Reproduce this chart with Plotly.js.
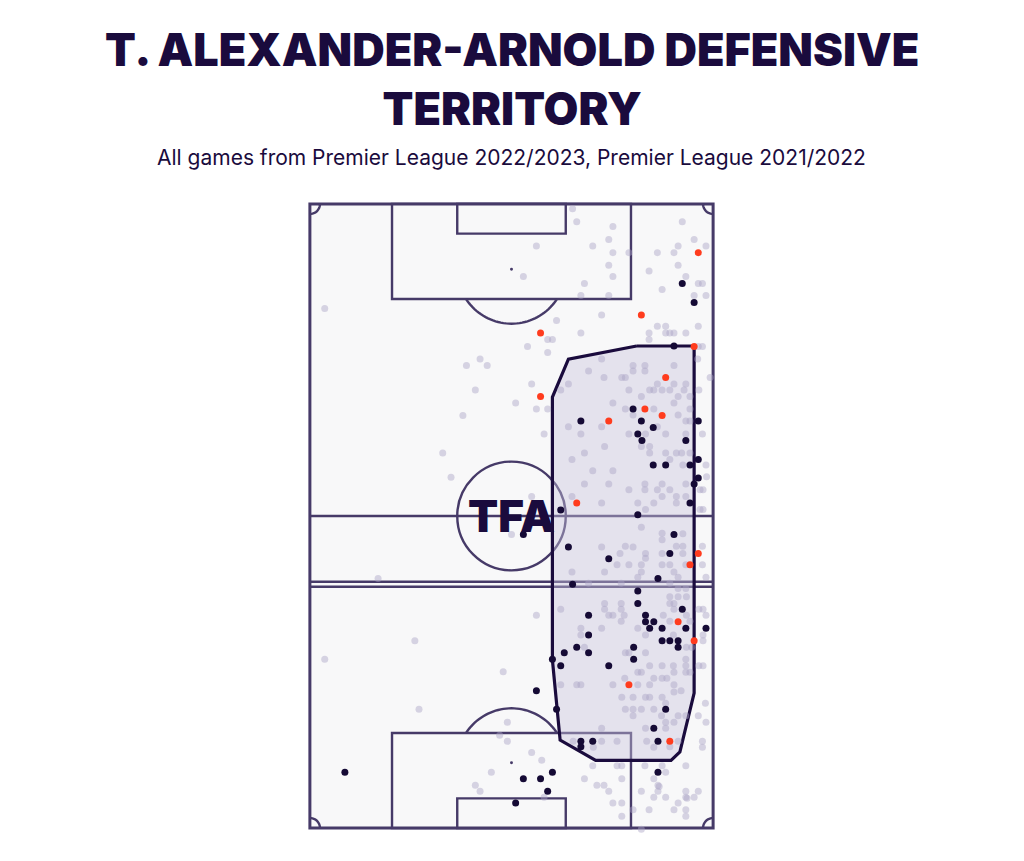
<!DOCTYPE html>
<html>
<head>
<meta charset="utf-8">
<script src="https://cdn.plot.ly/plotly-3.0.1.min.js"></script>
<style>html,body{margin:0;padding:0;background:#fff;}#chart{width:1024px;height:861px;}</style>
</head>
<body>
<div id="chart"></div>
<script>
// ---- Data (pitch coordinates in metres: x across 0-68, y along 0-105, own goal at bottom) ----
const titleLine1 = "T. ALEXANDER-ARNOLD DEFENSIVE";
const titleLine2 = "TERRITORY";
const subtitle = "All games from Premier League 2022/2023, Premier League 2021/2022";
const logoText = "TFA";

// all defensive actions (light grey)
const grayX = [44.3,45.0,62.8,51.1,50.4,64.8,38.2,47.7,62.1,66.8,
51.1,53.8,58.6,61.4,50.4,62.1,36.0,51.1,57.2,63.4,
46.3,65.5,66.2,59.4,45.7,50.4,64.8,66.8,2.5,49.2,
41.6,58.6,60.0,65.5,45.7,57.2,60.0,60.7,61.4,63.4,
40.1,40.9,57.2,36.7,65.5,66.2,40.1,28.7,26.4,29.9,
49.2,54.5,56.5,61.4,65.4,47.0,54.5,56.5,49.6,52.6,
53.2,67.5,37.4,43.6,58.6,61.4,63.4,27.9,42.3,53.8,
57.3,58.0,59.4,60.7,63.1,65.6,55.9,62.1,64.1,34.7,
51.1,61.4,38.2,40.1,53.2,58.0,64.1,25.8,54.5,62.1,
63.4,64.1,43.6,49.2,58.6,39.5,45.7,53.8,56.6,60.0,
63.4,66.2,49.7,55.9,57.3,22.4,46.3,57.3,60.0,61.8,
62.7,64.1,44.2,60.7,62.9,66.8,47.7,51.1,23.8,66.9,
46.3,50.4,56.5,59.4,63.4,53.8,56.5,58.6,60.7,65.8,
66.3,37.4,44.2,59.4,61.8,63.4,49.2,55.3,58.0,61.8,
56.6,65.8,66.3,55.9,34.0,59.4,62.9,59.4,49.2,53.2,
54.5,61.8,62.9,66.2,
52.3,56.6,59.4,62.9,56.6,51.8,53.8,55.9,59.4,60.7,
63.4,66.2,44.2,49.7,55.9,61.4,55.3,62.1,66.8,11.5,
47.0,52.5,60.7,62.1,63.4,60.7,62.1,63.5,49.7,52.5,
60.7,61.4,42.3,49.7,52.5,61.4,65.6,66.3,50.4,51.1,
53.0,59.6,63.5,66.8,38.2,52.5,60.7,64.1,
45.7,49.2,55.3,45.7,56.6,61.3,66.3,17.7,66.3,46.3,
63.5,64.4,53.2,53.8,56.6,2.5,63.4,57.3,59.4,61.3,
63.4,65.6,66.3,32.6,55.3,55.9,61.4,63.4,64.1,53.1,
58.0,59.4,60.2,42.3,45.0,45.7,51.1,55.3,57.3,61.4,
62.6,
52.6,54.5,56.6,57.3,59.4,61.4,66.7,60.0,18.4,53.2,
55.9,58.0,54.5,59.3,62.1,63.4,65.5,60.0,61.4,66.8,
33.3,49.2,56.6,60.0,32.0,33.3,44.4,49.2,51.8,56.8,
62.1,66.2,47.8,58.0,60.7,66.2,37.4,39.1,
47.7,51.8,52.6,56.5,59.4,63.4,30.6,60.0,46.3,52.6,
58.0,27.9,48.4,49.6,58.7,58.9,28.7,39.5,50.4,55.9,
58.7,63.4,65.5,58.0,60.0,63.4,63.6,64.8,51.1,52.6,
62.1,54.5,57.2,61.4,63.4,52.6,63.4,55.9,54.5];
const grayY = [104.2,102.0,102.0,101.2,99.0,99.0,97.9,97.9,97.9,97.9,
96.8,96.8,96.8,96.8,94.7,94.7,92.8,92.8,93.7,92.8,
91.6,91.6,91.6,90.6,89.6,89.6,89.6,89.6,87.4,86.3,
85.4,84.4,84.4,84.4,83.3,83.3,83.3,83.3,83.3,83.3,
82.2,82.2,82.2,81.0,81.0,81.0,80.0,78.9,77.8,77.8,
78.9,77.8,77.8,77.8,78.9,76.9,76.9,76.9,75.8,75.8,
75.8,75.8,74.7,74.7,74.7,74.7,74.7,73.7,73.7,73.7,
73.7,73.7,73.7,73.7,73.7,73.7,72.6,72.6,72.6,71.5,
71.5,71.5,70.5,70.5,70.5,70.5,70.5,69.4,69.5,69.5,
68.5,68.5,67.5,67.5,67.5,66.3,66.3,66.3,66.3,66.3,
66.3,66.3,64.2,64.2,64.2,63.1,63.1,63.1,63.1,63.1,
63.1,63.1,62.0,62.0,61.1,61.1,60.1,60.1,59.0,59.1,
57.9,57.9,57.9,57.9,57.9,56.9,56.9,56.9,56.9,56.9,
56.9,55.8,55.8,55.8,55.8,55.8,54.7,54.7,54.7,54.7,
53.6,53.6,53.6,50.6,49.4,49.6,49.5,48.5,47.3,47.4,
47.3,47.4,47.4,47.4,
46.2,46.2,46.2,46.2,45.4,44.3,44.3,44.3,44.3,44.3,
44.3,44.3,43.1,43.1,43.1,43.1,42.2,42.2,42.2,42.0,
41.2,41.2,41.2,40.3,40.3,38.9,38.9,38.9,37.8,37.8,
37.8,37.8,36.8,36.8,36.8,36.8,36.8,36.8,35.8,35.8,
35.8,35.8,35.8,35.8,35.8,34.8,34.8,34.8,
33.6,33.6,33.6,32.5,32.5,32.5,32.5,31.5,31.5,30.4,
30.4,30.4,29.5,29.5,29.5,28.4,28.4,27.3,27.3,27.3,
27.3,27.3,27.3,26.3,26.2,26.2,26.2,26.2,26.2,25.2,
25.2,25.2,25.2,24.1,24.1,24.1,24.1,24.1,24.1,24.1,
23.1,
22.0,22.0,22.0,22.0,22.0,22.9,21.0,21.0,20.0,20.0,
20.0,20.0,18.9,18.9,18.9,18.9,18.9,17.8,17.8,17.8,
17.8,16.8,16.8,16.8,15.6,14.6,14.6,14.6,14.6,14.6,
14.6,14.6,13.6,13.6,13.7,13.6,12.7,11.4,
10.5,10.5,10.5,10.5,10.5,10.5,9.4,9.4,8.3,8.3,
8.3,7.2,7.2,7.2,7.2,7.0,6.2,5.2,6.2,6.2,
6.2,6.2,6.2,5.2,5.2,5.2,5.0,5.2,4.2,4.2,
4.2,3.1,3.1,3.1,3.1,2.0,2.0,-0.2,20.0];

// highlighted actions (dark)
const darkX = [62.8,64.8,61.4,54.5,45.7,55.9,57.9,55.3,56.0,63.4,
65.5,65.5,57.9,60.0,64.1,65.5,64.8,64.1,42.3,55.3,
36.0,61.4,43.6,60.7,50.4,58.7,44.3,55.3,55.3,62.8,
47.0,56.6,56.6,58.0,57.3,59.4,63.4,66.8,47.0,59.4,
60.7,62.1,62.1,45.0,54.6,42.9,47.0,40.9,54.6,42.3,
50.4,38.2,60.0,41.6,58.0,45.7,45.7,47.7,58.7,58.7,
5.9,36.0,38.9,40.9,40.1,34.7];
const darkY = [91.6,88.4,81.1,70.5,68.5,68.5,67.4,66.3,65.2,65.2,
68.5,62.0,61.1,61.1,61.1,58.9,57.9,54.7,53.5,52.7,
49.4,49.4,47.3,46.2,45.3,42.0,41.0,39.9,37.8,36.8,
35.8,35.8,34.7,34.7,33.6,33.6,33.6,33.6,32.5,31.5,
31.5,31.5,30.4,30.4,30.4,29.5,29.5,28.4,28.4,27.3,
27.3,23.1,20.0,20.0,16.8,14.6,13.7,14.6,14.6,9.4,
9.4,8.3,8.3,9.4,6.2,4.2];

// highlighted actions (red)
const redX = [65.5,55.9,38.9,64.8,60.0,38.9,56.5,59.4,50.4,45.0,65.5,64.1,62.1,64.8,53.8,60.7];
const redY = [96.8,86.3,83.3,81.0,75.8,72.6,70.5,69.4,68.5,54.7,46.2,44.3,34.7,31.5,24.1,14.6];

// territory hull
const hullX = [55.1,64.8,64.8,63.6,62.4,60.9,48.2,42.2,41.7,40.9,40.9,43.6];
const hullY = [81.1,81.1,22.7,17.8,12.8,11.4,11.4,14.8,19.9,28.3,72.5,78.9];

// ---- Pitch geometry ----
const W = 68, L = 105;
const lineC = "#463a68";
const navy = "#1a0b3d";

function arcPath(cx, cy, r, a0, a1, n) {
  let p = "";
  for (let i = 0; i <= n; i++) {
    const a = (a0 + (a1 - a0) * i / n) * Math.PI / 180;
    p += (i === 0 ? "M" : "L") + (cx + r * Math.cos(a)).toFixed(3) + "," + (cy + r * Math.sin(a)).toFixed(3);
  }
  return p;
}
const ln = {color: lineC, width: 2.4};
const shapes = [
  {type:"rect", x0:0, x1:W, y0:0, y1:L, fillcolor:"#f8f8f9", line:{color:lineC, width:3}, layer:"below"},
  {type:"line", x0:0, x1:W, y0:L/2, y1:L/2, line:ln, layer:"below"},
  {type:"line", x0:0, x1:W, y0:41.45, y1:41.45, line:ln, layer:"below"},
  {type:"line", x0:0, x1:W, y0:40.6, y1:40.6, line:ln, layer:"below"},
  {type:"circle", x0:34-9.15, x1:34+9.15, y0:L/2-9.15, y1:L/2+9.15, line:ln, layer:"below"},
  {type:"rect", x0:13.85, x1:54.15, y0:89, y1:L, line:ln, layer:"below"},
  {type:"rect", x0:24.85, x1:43.15, y0:100, y1:L, line:ln, layer:"below"},
  {type:"rect", x0:13.85, x1:54.15, y0:0, y1:16, line:ln, layer:"below"},
  {type:"rect", x0:24.85, x1:43.15, y0:0, y1:5, line:ln, layer:"below"},
  {type:"circle", x0:33.75, x1:34.25, y0:93.75, y1:94.25, fillcolor:lineC, line:{width:0}, layer:"below"},
  {type:"circle", x0:33.75, x1:34.25, y0:10.75, y1:11.25, fillcolor:lineC, line:{width:0}, layer:"below"},
  {type:"path", path:arcPath(34, 94, 9.15, -146.9, -33.1, 40), line:ln, layer:"below"},
  {type:"path", path:arcPath(34, 11, 9.15, 33.1, 146.9, 40), line:ln, layer:"below"},
  {type:"path", path:arcPath(0, 0, 1.7, 0, 90, 12), line:ln, layer:"below"},
  {type:"path", path:arcPath(W, 0, 1.7, 90, 180, 12), line:ln, layer:"below"},
  {type:"path", path:arcPath(0, L, 1.7, -90, 0, 12), line:ln, layer:"below"},
  {type:"path", path:arcPath(W, L, 1.7, 180, 270, 12), line:ln, layer:"below"}
];

const traces = [
  {type:"scatter", mode:"lines", x:hullX.concat([hullX[0]]), y:hullY.concat([hullY[0]]),
   fill:"toself", fillcolor:"rgba(200,195,222,0.42)",
   line:{color:navy, width:3.2}, hoverinfo:"skip"},
  {type:"scatter", mode:"markers", x:grayX, y:grayY,
   marker:{size:7, color:"rgba(170,165,198,0.45)", line:{width:0}}, hoverinfo:"skip"},
  {type:"scatter", mode:"markers", x:darkX, y:darkY,
   marker:{size:7, color:"#150a35", line:{width:0}}, hoverinfo:"skip"},
  {type:"scatter", mode:"markers", x:redX, y:redY,
   marker:{size:7, color:"#ff3c1e", line:{width:0}}, hoverinfo:"skip"}
];

const layout = {
  width:1024, height:861,
  margin:{l:301.1, r:302.2, t:195.1, b:24.1, pad:0},
  paper_bgcolor:"#ffffff", plot_bgcolor:"#ffffff",
  showlegend:false,
  xaxis:{range:[-1.5, 69.5], visible:false, fixedrange:true},
  yaxis:{range:[-1.5, 106.5], visible:false, fixedrange:true},
  shapes: shapes,
  annotations:[
    {xref:"paper", yref:"paper", x:0.5, y:1.1809, xanchor:"center", yanchor:"middle", showarrow:false,
     text:titleLine1 + "<br>" + titleLine2, font:{family:"Inter", size:45, weight:900, color:navy}},
    {xref:"paper", yref:"paper", x:0.5, y:1.0577, xanchor:"center", yanchor:"middle", showarrow:false,
     text:subtitle, font:{family:"Inter", size:21, color:navy}},
    {xref:"x", yref:"y", x:34, y:52.5, xanchor:"center", yanchor:"middle", showarrow:false,
     text:logoText, font:{family:"Inter", size:44, weight:900, color:navy}},
    {xref:"x", yref:"y", x:-3.4, y:67.3, axref:"x", ayref:"y", ax:-3.4, ay:38.4, text:"",
     showarrow:true, arrowhead:2, arrowsize:1, arrowwidth:3, arrowcolor:"#3d2f60"}
  ]
};
Plotly.newPlot("chart", traces, layout, {displayModeBar:false, staticPlot:true});
</script>
</body>
</html>
